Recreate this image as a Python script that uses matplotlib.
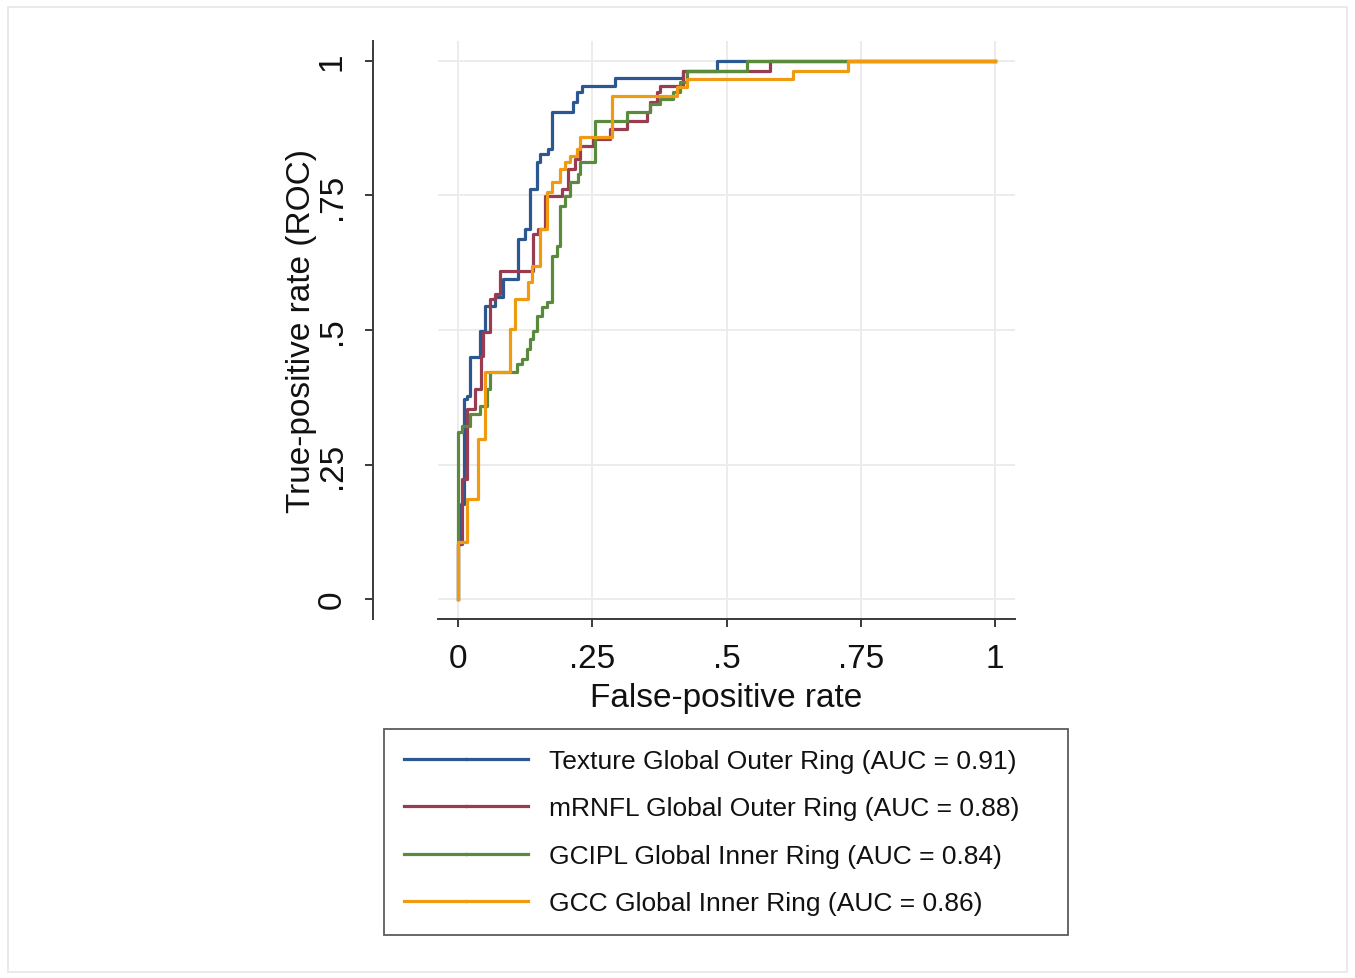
import matplotlib
matplotlib.use("Agg")
import matplotlib.pyplot as plt
from matplotlib.lines import Line2D
from matplotlib.patches import Rectangle

plt.rcParams['font.family'] = ['Liberation Sans', 'DejaVu Sans']

# ROC step points (FPR at end of each horizontal run, TPR level)
texture_fpr = [0, 0.006, 0.011, 0.017, 0.022, 0.041, 0.050, 0.069, 0.084, 0.112, 0.125, 0.134,
               0.147, 0.153, 0.168, 0.175, 0.214, 0.222, 0.231, 0.292, 0.419, 0.482, 1.0]
texture_tpr = [0, 0.102, 0.177, 0.372, 0.377, 0.450, 0.498, 0.545, 0.561, 0.595, 0.669, 0.688,
               0.762, 0.812, 0.827, 0.836, 0.905, 0.924, 0.942, 0.954, 0.968, 0.981, 1.0]

mrnfl_fpr = [0, 0.007, 0.017, 0.032, 0.043, 0.047, 0.060, 0.069, 0.078, 0.140, 0.149, 0.162,
             0.194, 0.205, 0.218, 0.227, 0.251, 0.283, 0.315, 0.352, 0.358, 0.371, 0.376,
             0.419, 0.581, 1.0]
mrnfl_tpr = [0, 0.102, 0.223, 0.353, 0.390, 0.452, 0.496, 0.558, 0.567, 0.610, 0.678, 0.688,
             0.749, 0.762, 0.799, 0.818, 0.842, 0.855, 0.874, 0.888, 0.905, 0.924, 0.942,
             0.954, 0.981, 1.0]

gcipl_fpr = [0, 0.007, 0.022, 0.041, 0.054, 0.060, 0.110, 0.119, 0.128, 0.134, 0.140, 0.147,
             0.156, 0.166, 0.175, 0.184, 0.190, 0.199, 0.209, 0.223, 0.227, 0.255, 0.315,
             0.358, 0.376, 0.400, 0.413, 0.426, 0.538, 1.0]
gcipl_tpr = [0, 0.310, 0.322, 0.344, 0.359, 0.390, 0.422, 0.437, 0.446, 0.465, 0.483, 0.498,
             0.526, 0.543, 0.552, 0.638, 0.656, 0.730, 0.749, 0.775, 0.790, 0.812, 0.888,
             0.905, 0.920, 0.929, 0.942, 0.961, 0.981, 1.0]

gcc_fpr = [0, 0.017, 0.037, 0.050, 0.097, 0.106, 0.130, 0.138, 0.153, 0.166, 0.175, 0.190,
           0.199, 0.209, 0.222, 0.227, 0.287, 0.408, 0.426, 0.624, 0.726, 1.0]
gcc_tpr = [0, 0.106, 0.186, 0.297, 0.422, 0.502, 0.558, 0.589, 0.619, 0.688, 0.757, 0.775,
           0.799, 0.812, 0.823, 0.836, 0.859, 0.935, 0.952, 0.967, 0.981, 1.0]

labels = ["Texture Global Outer Ring (AUC = 0.91)",
          "mRNFL Global Outer Ring (AUC = 0.88)",
          "GCIPL Global Inner Ring (AUC = 0.84)",
          "GCC Global Inner Ring (AUC = 0.86)"]
colors = ['#2b5890', '#983c52', '#5a8a3c', '#f09a12']

ticks = [0, 0.25, 0.5, 0.75, 1]
tick_labels = ['0', '.25', '.5', '.75', '1']

fig = plt.figure(figsize=(13.55, 9.79), dpi=100)
fig.patches.append(Rectangle((0.006, 0.006), 0.988, 0.986, transform=fig.transFigure,
                             fill=False, edgecolor='#e6e6e6', linewidth=1.2))
ax = fig.add_axes([438/1355, 1-620/979, (1015-438)/1355, (620-42)/979])

series = [(texture_fpr, texture_tpr), (mrnfl_fpr, mrnfl_tpr),
          (gcipl_fpr, gcipl_tpr), (gcc_fpr, gcc_tpr)]
for (fx, ty), c in zip(series, colors):
    ax.plot(fx, ty, drawstyle='steps-pre', color=c, linewidth=2.3, zorder=3)

ax.set_xlim(-0.037, 1.037)
ax.set_ylim(-0.037, 1.037)
ax.set_xticks(ticks)
ax.set_xticklabels(tick_labels)
ax.set_yticks(ticks)
ax.set_yticklabels(tick_labels)
ax.grid(True, color='#ebebeb', linewidth=1.3, zorder=0)
ax.set_axisbelow(True)

for s in ['top', 'right']:
    ax.spines[s].set_visible(False)
ax.spines['left'].set_position(('outward', 47))
for s in ['left', 'bottom']:
    ax.spines[s].set_color('#3a3a3a')
    ax.spines[s].set_linewidth(1.4)
ax.tick_params(axis='both', direction='out', length=6, width=1.4, color='#3a3a3a',
               labelsize=24, labelcolor='#111111', pad=11)
ax.tick_params(axis='y', labelrotation=90, pad=12)
for t in ax.get_yticklabels():
    t.set_verticalalignment('center')

ax.set_xlabel('False-positive rate', fontsize=24, color='#111111', labelpad=6)
ax.set_ylabel('True-positive rate (ROC)', fontsize=24, color='#111111', labelpad=0)

handles = [Line2D([0, 0.5, 1], [0, 0, 0], color=c, linewidth=2.3, marker='.', markersize=3,
                  markevery=[1]) for c in colors]
leg = fig.legend(handles, labels, loc='upper left',
                 bbox_to_anchor=(384/1355, 1-936/979, (1068-384)/1355, (936-730)/979),
                 mode='expand', fontsize=19, frameon=True, fancybox=False,
                 handlelength=4.7, handletextpad=0.8, labelspacing=0.89,
                 borderpad=0.75, borderaxespad=0)
leg.get_frame().set_edgecolor('#333333')
leg.get_frame().set_linewidth(1.3)
for t in leg.get_texts():
    t.set_color('#111111')

fig.savefig('out.png', dpi=100, facecolor='white')
